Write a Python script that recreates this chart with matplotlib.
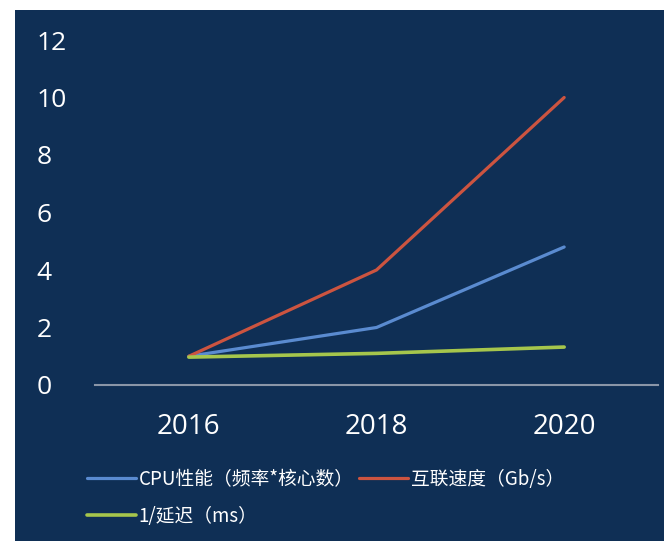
import matplotlib
matplotlib.use("Agg")
import matplotlib.pyplot as plt
from matplotlib.patches import Rectangle

years = ["2016", "2018", "2020"]
cpu = [1.0, 2.0, 4.8]
interconnect = [1.0, 4.0, 10.0]
inv_latency = [0.97, 1.1, 1.32]
labels = ["CPU性能（频率*核心数）", "互联速度（Gb/s）", "1/延迟（ms）"]
yticks = [0, 2, 4, 6, 8, 10, 12]

bg = "#0f2f55"
plt.rcParams['font.family'] = ['Noto Sans CJK SC', 'DejaVu Sans']

fig = plt.figure(figsize=(6.64, 5.41), dpi=100)
fig.patch.set_facecolor("white")
fig.patches.append(Rectangle((15/664, 0), 1, 1 - 10/541, transform=fig.transFigure,
                             facecolor=bg, edgecolor="none", zorder=-1))

ax = fig.add_axes([95/664, 1 - 385/541, (658 - 95)/664, (385 - 40)/541])
ax.set_zorder(2)
ax.patch.set_alpha(0)
x = list(range(len(years)))
l1, = ax.plot(x, cpu, color="#5a8bd0", lw=2.3, solid_capstyle="round")
l2, = ax.plot(x, interconnect, color="#cc5440", lw=2.3, solid_capstyle="round")
l3, = ax.plot(x, inv_latency, color="#a6c64c", lw=2.6, solid_capstyle="round")

ax.set_xlim(-0.5, 2.5)
ax.set_ylim(0, 12)
ax.set_xticks(x)
ax.set_xticklabels(years)
ax.set_yticks(yticks)
for s in ["top", "right", "left"]:
    ax.spines[s].set_visible(False)
ax.spines["bottom"].set_color("#8a96a8")
ax.spines["bottom"].set_linewidth(1.5)
ax.tick_params(axis="both", length=0, colors="white")
for t in ax.get_xticklabels():
    t.set_fontfamily("Open Sans")
    t.set_fontsize(20)
    t.set_fontweight("medium")
for t in ax.get_yticklabels():
    t.set_fontfamily("Open Sans")
    t.set_fontsize(19)
    t.set_fontweight("medium")
    t.set_horizontalalignment("left")
ax.tick_params(axis="y", pad=42)
ax.tick_params(axis="x", pad=20)

leg = fig.legend([l1, l3, l2], [labels[0], labels[2], labels[1]], ncol=2,
                 loc="upper left", bbox_to_anchor=(87/664, 1 - 469/541),
                 frameon=False, fontsize=13.5, handlelength=2.6, handletextpad=0.15,
                 columnspacing=0.3, labelspacing=0.85, borderaxespad=0, borderpad=0)
leg.set_zorder(3)
for t in leg.get_texts():
    t.set_color("white")

fig.savefig("out.png", dpi=100, facecolor=fig.get_facecolor())
